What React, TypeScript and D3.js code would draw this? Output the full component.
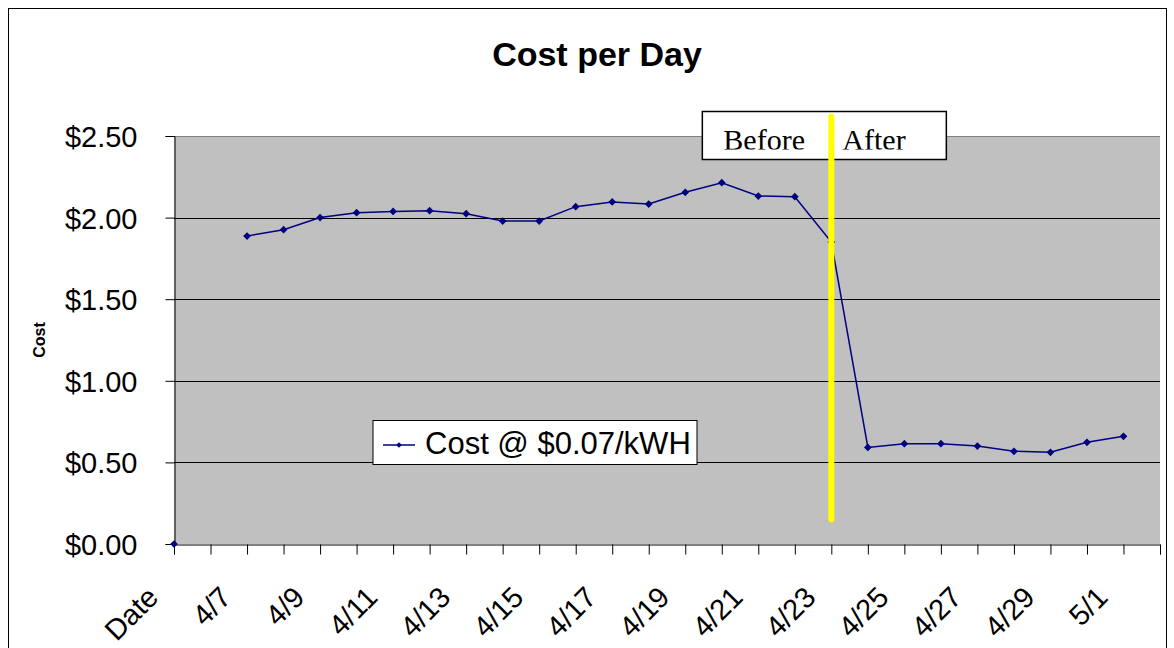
import React, { useRef, useEffect } from 'react';
import * as d3 from 'd3';

// categories along the x axis (first one is the header cell plotted as 0)
const categories = [
  'Date', '4/6', '4/7', '4/8', '4/9', '4/10', '4/11', '4/12', '4/13', '4/14',
  '4/15', '4/16', '4/17', '4/18', '4/19', '4/20', '4/21', '4/22', '4/23', '4/24',
  '4/25', '4/26', '4/27', '4/28', '4/29', '4/30', '5/1', '5/2',
];
// cost per day, null = no reading
const costs: (number | null)[] = [
  0, null, 1.887, 1.926, 2.0, 2.03, 2.038, 2.042, 2.024, 1.979,
  1.979, 2.067, 2.096, 2.083, 2.155, 2.214, 2.132, 2.128, 1.85, 0.592,
  0.615, 0.615, 0.6, 0.568, 0.562, 0.623, 0.66, null,
];
const tickLabels = ['Date', '4/7', '4/9', '4/11', '4/13', '4/15', '4/17', '4/19', '4/21', '4/23', '4/25', '4/27', '4/29', '5/1'];
const yTicks = [0, 0.5, 1, 1.5, 2, 2.5];
const changeDay = '4/23';
const seriesName = 'Cost @ $0.07/kWH';

const App = () => {
  const svgRef = useRef<SVGSVGElement>(null);

  useEffect(() => {
    if (!svgRef.current) return;
    const svg = d3.select(svgRef.current);
    svg.selectAll('*').remove();

    const width = 1174;
    const height = 648;
    const plot = { left: 174, right: 1160, top: 136, bottom: 544 };
    const font = 'Arial, "Liberation Sans", sans-serif';
    const serif = '"Liberation Serif", "Times New Roman", serif';
    const navy = '#000080';

    svg.attr('width', width).attr('height', height).style('background', '#fff');

    // outer chart border
    svg.append('rect')
      .attr('x', 8.5).attr('y', 8.5)
      .attr('width', 1158).attr('height', 660)
      .attr('fill', 'none').attr('stroke', '#000');

    const x = d3.scalePoint<string>().domain(categories).range([plot.left, plot.right]);
    const y = d3.scaleLinear().domain([0, 2.5]).range([plot.bottom, plot.top]);

    // plot area
    svg.append('rect')
      .attr('x', plot.left).attr('y', plot.top)
      .attr('width', plot.right - plot.left).attr('height', plot.bottom - plot.top)
      .attr('fill', '#c0c0c0');

    // gridlines
    svg.append('g').selectAll('line')
      .data(yTicks.filter(t => t > 0))
      .enter().append('line')
      .attr('x1', plot.left).attr('x2', plot.right)
      .attr('y1', d => Math.round(y(d)) + 0.5).attr('y2', d => Math.round(y(d)) + 0.5)
      .attr('stroke', d => (d === 2.5 ? '#808080' : '#000'))
      .attr('stroke-width', 1);

    // y axis
    const yAxis = d3.axisLeft(y)
      .tickValues(yTicks)
      .tickSize(9)
      .tickPadding(28)
      .tickFormat(d => '$' + (d as number).toFixed(2));
    const yg = svg.append('g').attr('transform', `translate(${plot.left + 0.5},0)`).call(yAxis);
    yg.select('.domain').attr('stroke', '#000');
    yg.selectAll('.tick line').attr('stroke', '#000');
    yg.selectAll('.tick text')
      .attr('fill', '#000').attr('font-family', font).attr('font-size', 29)
      .attr('dy', '0.36em');

    // x axis
    const xAxis = d3.axisBottom(x).tickSize(10).tickFormat(() => '');
    const xg = svg.append('g').attr('transform', `translate(0,${plot.bottom + 0.5})`).call(xAxis);
    xg.select('.domain').attr('stroke', '#000');
    xg.selectAll('.tick line').attr('stroke', '#000');

    svg.append('g').selectAll('text')
      .data(tickLabels)
      .enter().append('text')
      .attr('transform', d => `translate(${x(d)! - 14},${599}) rotate(-45)`)
      .attr('text-anchor', 'end')
      .attr('font-family', font).attr('font-size', 29)
      .text(d => d);

    // title and axis title
    svg.append('text')
      .attr('x', 597).attr('y', 66)
      .attr('text-anchor', 'middle')
      .attr('font-family', font).attr('font-weight', 'bold').attr('font-size', 34)
      .text('Cost per Day');

    svg.append('text')
      .attr('transform', 'translate(45,340) rotate(-90)')
      .attr('text-anchor', 'middle')
      .attr('font-family', font).attr('font-weight', 'bold').attr('font-size', 16)
      .text('Cost');

    // series line + diamonds
    const line = d3.line<number | null>()
      .defined(d => d !== null)
      .x((_, i) => x(categories[i])!)
      .y(d => y(d as number));

    svg.append('path')
      .datum(costs)
      .attr('fill', 'none')
      .attr('stroke', navy)
      .attr('stroke-width', 1.5)
      .attr('d', line);

    const diamond = d3.symbol().type(d3.symbolSquare).size(30);
    svg.append('g').selectAll('path')
      .data(costs.map((v, i) => ({ v, c: categories[i] })).filter(d => d.v !== null))
      .enter().append('path')
      .attr('transform', d => `translate(${x(d.c)},${y(d.v as number)}) rotate(45)`)
      .attr('d', diamond)
      .attr('fill', navy);

    // Before / After annotation box (text clipped at the bottom like the original)
    const mx = x(changeDay)!;
    svg.append('clipPath').attr('id', 'annClip')
      .append('rect')
      .attr('x', mx - 129).attr('y', 111).attr('width', 244).attr('height', 38.5);
    const ann = svg.append('g');
    ann.append('rect')
      .attr('x', mx - 129).attr('y', 111.5)
      .attr('width', 244).attr('height', 48)
      .attr('fill', '#fff').attr('stroke', '#000').attr('stroke-width', 1.5);
    const annText = ann.append('g').attr('clip-path', 'url(#annClip)');
    annText.append('text')
      .attr('x', mx - 108).attr('y', 150)
      .attr('font-family', serif).attr('font-size', 30)
      .text('Before');
    annText.append('text')
      .attr('x', mx + 11).attr('y', 150)
      .attr('font-family', serif).attr('font-size', 30)
      .text('After');

    // yellow change marker
    svg.append('line')
      .attr('x1', mx).attr('x2', mx)
      .attr('y1', y(2.62)).attr('y2', y(0.15))
      .attr('stroke', '#ffff00').attr('stroke-width', 6).attr('stroke-linecap', 'round');

    // legend
    const lg = svg.append('g');
    lg.append('rect')
      .attr('x', 373).attr('y', 420.5)
      .attr('width', 324).attr('height', 44)
      .attr('fill', '#fff').attr('stroke', '#000');
    lg.append('line')
      .attr('x1', 383).attr('x2', 415).attr('y1', 445).attr('y2', 445)
      .attr('stroke', navy).attr('stroke-width', 1.5);
    lg.append('path')
      .attr('transform', 'translate(399,445) rotate(45)')
      .attr('d', d3.symbol().type(d3.symbolSquare).size(16))
      .attr('fill', navy);
    lg.append('text')
      .attr('x', 425).attr('y', 454)
      .attr('font-family', font).attr('font-size', 31)
      .text(seriesName);
  }, []);

  return (
    <svg ref={svgRef} style={{ position: 'absolute', left: 0, top: 0, display: 'block' }}></svg>
  );
};

export default App;
